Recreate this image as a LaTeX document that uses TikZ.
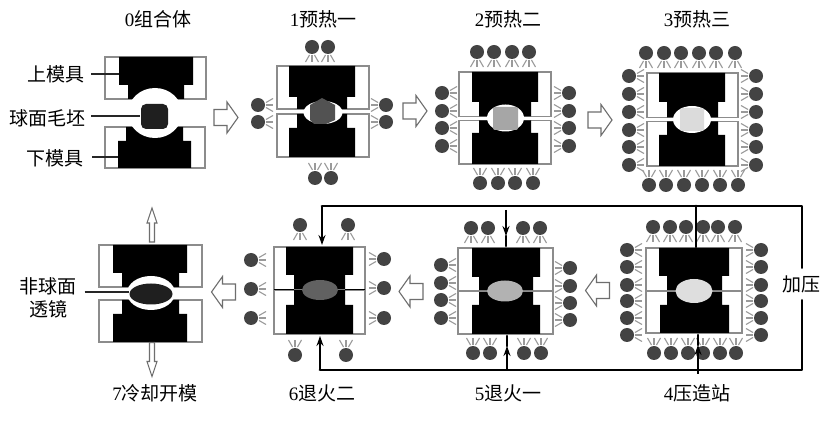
\documentclass[tikz,border=0pt]{standalone}
\usepackage{fontspec}
\setmainfont{Liberation Serif}
\newfontfamily\cjk{Noto Sans CJK SC}
\usetikzlibrary{arrows.meta}
\definecolor{lampc}{HTML}{434343}
\definecolor{rayc}{HTML}{9A9A9A}
\definecolor{framec}{HTML}{8C8C8C}
\definecolor{arrc}{HTML}{6E6E6E}
\tikzset{
  moldline/.style={draw=framec,line width=1.1pt,fill=white},
  midline/.style={draw=framec,line width=.7pt},
  darkmid/.style={draw=black,line width=1pt},
  ray/.style={draw=rayc,line width=1.1pt},
  lampdot/.style={fill=lampc,draw=none},
  blockarr/.style={draw=arrc,line width=1.1pt,fill=white,line join=miter},
  leader/.style={draw=black!85,line width=1.2pt},
  pressline/.style={draw=black,line width=2.7pt,line cap=round,line join=round},
  pressarr/.style={pressline,line cap=butt,-{Stealth[length=10pt,width=7pt]}},
  lab/.style={inner sep=0pt,font=\fontsize{19}{22}\selectfont,text=black,align=center},
  cavity/.style={fill=white,draw=none}
}
% one half of a mould: x0 x1 b0 b1 n0 n1 youter yshoulder yinner
\newcommand\halfmold[9]{%
  \draw[moldline] (#1,#7) rectangle (#2,#9);
  \fill[black] (#3,#7) -- (#4,#7) -- (#4,#8) -- (#6,#8) -- (#6,#9) -- (#5,#9) -- (#5,#8) -- (#3,#8) -- cycle;
}
% lamp at x,y, rays pointing to screen angle
\newcommand\lamp[3]{%
  \begin{scope}[shift={(#1,#2)},rotate=#3]
    \draw[ray] (8,2.5) -- (15,6.5);
    \draw[ray] (8,0) -- (15,0);
    \draw[ray] (8,-2.5) -- (15,-6.5);
    \fill[lampdot] (0,0) circle[radius=7];
  \end{scope}
}
\newcommand\lamprow[3]{\foreach \px in {#1}{\lamp{\px}{#2}{#3}}}
\newcommand\lampcol[3]{\foreach \py in {#2}{\lamp{#1}{\py}{#3}}}
\newcommand\blockarrow[3]{%
  \begin{scope}[shift={(#1,#2)},rotate=#3]
    \draw[blockarr] (-12,-8) -- (1,-8) -- (1,-15.5) -- (12,0) -- (1,15.5) -- (1,8) -- (-12,8) -- cycle;
  \end{scope}
}
\newcommand\thinarrow[3]{%
  \begin{scope}[shift={(#1,#2)},rotate=#3]
    \draw[blockarr] (-17,-2.5) -- (2,-2.5) -- (2,-5) -- (17,0) -- (2,5) -- (2,2.5) -- (-17,2.5) -- cycle;
  \end{scope}
}
\begin{document}
\begin{tikzpicture}[x=1pt,y=-1pt]
\useasboundingbox (0,0) rectangle (830,427);
\fill[white] (0,0) rectangle (830,427);

% ---------- station 0
\halfmold{105}{206}{119}{193}{128}{184}{57}{85}{99}
\halfmold{105}{205}{118}{191}{126}{183}{168}{141}{127}
\fill[cavity] (155,113) ellipse[x radius=27,y radius=25];
\fill[white] (106,100) rectangle (205,126);
\fill[black!88,rounded corners=5pt] (141,104) rectangle (168,129);
\node[inner sep=0pt,minimum size=1pt] (billet0) at (141,116) {};
\coordinate (upper0) at (119,74);
\coordinate (lower0) at (118,157);
\node[lab,anchor=east] (lu) at (85,74) {{\cjk 上模具}};
\node[lab,anchor=east] (lb) at (86,118) {{\cjk 球面毛坯}};
\node[lab,anchor=east] (ld) at (84,158) {{\cjk 下模具}};
\draw[leader] ([xshift=6pt]lu.east) -- (upper0);
\draw[leader] ([xshift=5pt]lb.east|-billet0) -- (billet0);
\draw[leader] ([xshift=8pt]ld.east|-lower0) -- (lower0);

% ---------- station 1
\halfmold{277}{369}{289}{355}{297}{347}{66}{97}{109}
\halfmold{277}{369}{289}{355}{297}{347}{157}{128}{114}
\fill[cavity] (323,112.5) ellipse[x radius=19.5,y radius=11.5];
\fill[fill=black!68] (310,105) -- (322,98) -- (335,105) -- (335,120) -- (326,124) -- (314,124) -- (310,120) -- cycle;
\lamprow{312,328}{47}{-90}
\lamprow{315,331}{178}{90}
\lampcol{258}{105,122}{0}
\lampcol{386}{105,122}{180}

% ---------- station 2
\halfmold{459}{551}{472}{538}{479}{531}{72}{102}{116.5}
\halfmold{459}{551}{472}{538}{479}{531}{164}{133}{120.5}
\fill[cavity] (505.5,118) ellipse[x radius=18.5,y radius=13.5];
\fill[black!35,rounded corners=2pt] (493,107) rectangle (518,130);
\lamprow{477,494,512,529}{52}{-90}
\lamprow{480,498,515,533}{183}{90}
\lampcol{442}{93,111,128,146}{0}
\lampcol{569}{93,111,128,146}{180}

% ---------- station 3
\halfmold{647}{738}{659}{725}{667}{718}{73}{102}{117.5}
\halfmold{647}{738}{659}{725}{667}{718}{166}{135}{121.5}
\fill[cavity] (692,119.5) ellipse[x radius=19,y radius=13.5];
\fill[black!14,rounded corners=2pt] (680,108) rectangle (704,131);
\lamprow{646,664,681,699,716,735}{53}{-90}
\lamprow{649,666,684,702,720,738}{185}{90}
\lampcol{629}{76,94,112,130,147,165}{0}
\lampcol{756}{76,94,112,130,147,165}{180}

% ---------- station 4
\halfmold{646}{742}{659}{729}{667}{722}{248}{276}{291}
\halfmold{646}{742}{660}{729}{667}{722}{333}{305}{291}
\draw[midline] (646,291) -- (742,291);
\fill[black!13] (694,291) ellipse[x radius=18.5,y radius=12];
\lamprow{653,670,686,703,718,735}{227}{-90}
\lamprow{654,671,688,703,720,736}{353}{90}
\lampcol{627}{250,267,285,301,318,335}{0}
\lampcol{761}{250,267,285,301,318,335}{180}

% ---------- station 5
\halfmold{458}{553}{472}{540}{479}{533}{248}{277}{291}
\halfmold{458}{553}{472}{540}{479}{533}{334}{305}{291}
\draw[midline] (458,291) -- (553,291);
\fill[black!30] (505,291) ellipse[x radius=18,y radius=10.5];
\lamprow{471,488,523,540}{228}{-90}
\lamprow{473,490,524,541}{353}{90}
\lampcol{441}{265,283,300,318}{0}
\lampcol{570}{268,286,303,320}{180}

% ---------- station 6
\halfmold{274}{365}{286}{353}{294}{345}{247}{275}{290}
\halfmold{274}{365}{286}{353}{294}{345}{334}{305}{290}
\draw[darkmid] (274,290) -- (294,290);
\draw[darkmid] (345,290) -- (365,290);
\fill[black!62] (320,290) ellipse[x radius=18,y radius=10];
\lamprow{300,348}{225}{-90}
\lamprow{295,346}{355}{90}
\lampcol{251}{260,289,318}{0}
\lampcol{384}{259,288,318}{180}

% ---------- station 7
\halfmold{99}{202}{113}{187}{122}{179}{245}{273}{287}
\halfmold{99}{202}{113}{187}{122}{179}{342}{314}{300}
\fill[cavity] (151,293) ellipse[x radius=24,y radius=17];
\fill[black!88] (151,294) ellipse[x radius=21.5,y radius=10.5];
\node[inner sep=0pt,minimum size=1pt] (lens7) at (130,292) {};
\node[lab,anchor=center] (ls) at (48,298) {{\cjk 非球面}\\[1pt]{\cjk 透镜}};
\draw[leader] ([xshift=8pt]ls.east|-lens7) -- (lens7);

% ---------- hollow arrows
\blockarrow{226}{117.5}{0}
\blockarrow{415}{111}{0}
\blockarrow{600}{120}{0}
\blockarrow{597.5}{290.5}{180}
\blockarrow{411}{291.5}{180}
\blockarrow{223.5}{292}{180}
\thinarrow{152}{225}{90}
\thinarrow{152}{359.5}{-90}

% ---------- press frame
\node[lab] (jia) at (801,284) [minimum height=32pt] {{\cjk 加压}};
\coordinate (tl) at (322,206);
\coordinate (tr) at (802,206);
\coordinate (br) at (802,370);
\coordinate (bl) at (320,370);
\draw[pressline] (jia.north-|tr) -- (tr) -- (tl);
\draw[pressline] (jia.south-|br) -- (br) -- (bl);
% station 6 rams
\coordinate (r6t) at (322,245);
\coordinate (r6b) at (320,336);
\draw[pressarr] (tl) -- (r6t);
\draw[pressarr] (bl) -- (r6b);
% station 5 rams
\coordinate (r5ts) at (506,210);
\coordinate (r5tm) at (506,236);
\coordinate (r5t) at (506,246);
\coordinate (r5bs) at (507,370);
\coordinate (r5bm) at (507,346);
\coordinate (r5b) at (507,336);
\draw[pressarr] (r5ts) -- (r5tm);
\draw[pressline] (r5tm) -- (r5t);
\draw[pressarr] (r5bs) -- (r5bm);
\draw[pressline] (r5bm) -- (r5b);
% station 4 rams
\coordinate (r4ts) at (696,206);
\coordinate (r4t) at (696,247);
\coordinate (r4bs) at (698,374);
\coordinate (r4bm) at (698,345);
\coordinate (r4b) at (698,335);
\draw[pressline] (r4ts) -- (r4t);
\draw[pressarr] (r4bs) -- (r4bm);
\draw[pressline] (r4bm) -- (r4b);

% ---------- titles
\node[lab] (t0) at (158,19) {0{\cjk 组合体}};
\node[lab] (t1) at (323,19) {1{\cjk 预热一}};
\node[lab] (t2) at (508,19) {2{\cjk 预热二}};
\node[lab] (t3) at (697,19) {3{\cjk 预热三}};
\node[lab] (t7) at (155,393) {7{\cjk 冷却开模}};
\node[lab] (t6) at (322,393) {6{\cjk 退火二}};
\node[lab] (t5) at (508,393) {5{\cjk 退火一}};
\node[lab] (t4) at (697,393) {4{\cjk 压造站}};
\end{tikzpicture}
\end{document}
